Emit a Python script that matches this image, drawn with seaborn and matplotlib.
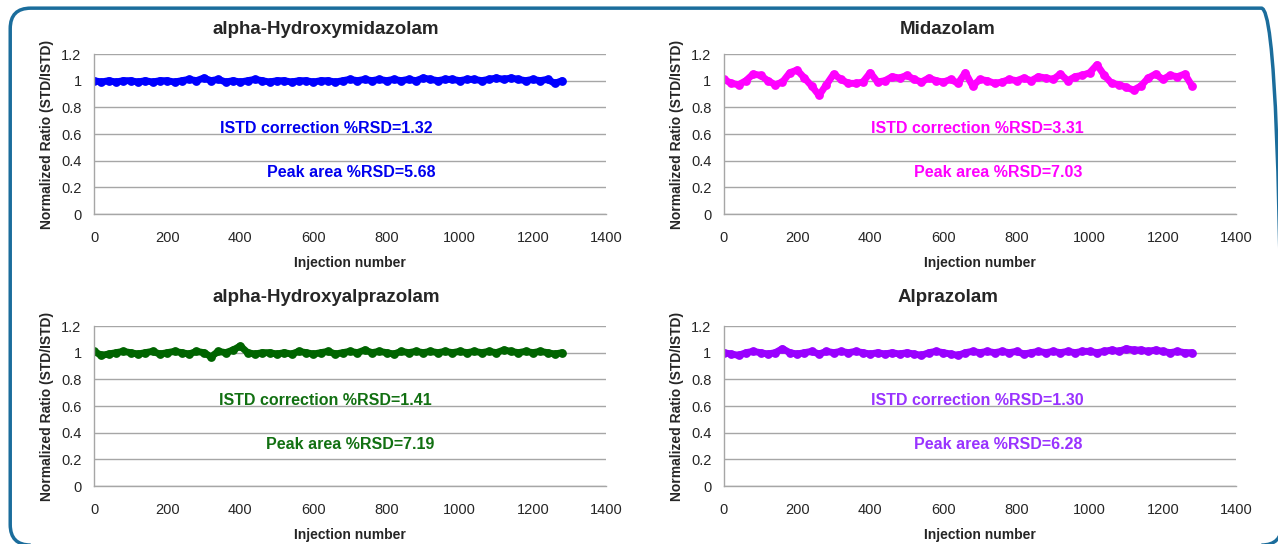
import numpy as np
import pandas as pd
import matplotlib
matplotlib.use("Agg")
import matplotlib.pyplot as plt
from matplotlib.patches import FancyBboxPatch
import seaborn as sns

injection = list(range(0, 1281, 20))

hydroxymidazolam = [1.00, 0.99, 1.00, 0.99, 1.00, 1.00, 0.99, 1.00, 0.99, 1.00,
                    1.00, 0.99, 1.00, 1.01, 1.00, 1.02, 1.00, 1.01, 0.99, 1.00,
                    0.99, 1.00, 1.01, 1.00, 0.99, 1.00, 1.00, 0.99, 1.00, 1.00,
                    0.99, 1.00, 1.00, 0.99, 1.00, 1.01, 1.00, 1.01, 1.00, 1.01,
                    1.00, 1.01, 1.00, 1.01, 1.00, 1.02, 1.01, 1.00, 1.01, 1.01,
                    1.00, 1.01, 1.01, 1.00, 1.01, 1.02, 1.01, 1.02, 1.01, 1.00,
                    1.01, 1.00, 1.01, 0.98, 1.00]
midazolam = [1.01, 0.98, 0.97, 1.00, 1.05, 1.04, 1.00, 0.97, 0.99, 1.06,
             1.08, 1.02, 0.96, 0.89, 0.97, 1.05, 1.01, 0.98, 0.98, 0.99,
             1.06, 0.99, 1.00, 1.03, 1.02, 1.04, 1.01, 0.99, 1.02, 1.00,
             0.99, 1.01, 0.98, 1.06, 0.96, 1.01, 1.00, 0.98, 0.99, 1.01,
             1.00, 1.02, 1.00, 1.03, 1.02, 1.01, 1.05, 1.00, 1.03, 1.04,
             1.06, 1.12, 1.04, 0.98, 0.97, 0.95, 0.93, 0.96, 1.02, 1.05,
             1.01, 1.04, 1.03, 1.05, 0.96]
hydroxyalprazolam = [1.01, 0.98, 0.99, 1.00, 1.01, 1.00, 0.99, 1.00, 1.01, 0.99,
                     1.00, 1.01, 1.00, 0.99, 1.01, 1.00, 0.97, 1.01, 1.00, 1.02,
                     1.05, 1.00, 0.99, 1.00, 1.00, 0.99, 1.00, 0.99, 1.01, 1.00,
                     0.99, 1.00, 1.01, 0.99, 1.00, 1.01, 1.00, 1.02, 1.00, 1.01,
                     1.00, 0.99, 1.01, 1.00, 1.01, 1.00, 1.01, 1.00, 1.01, 1.00,
                     1.01, 1.00, 1.01, 1.00, 1.01, 1.00, 1.02, 1.01, 1.00, 1.01,
                     1.00, 1.01, 1.00, 0.99, 1.00]
alprazolam = [1.00, 0.99, 0.98, 1.00, 1.01, 1.00, 0.99, 1.00, 1.03, 1.00,
              0.99, 1.00, 1.01, 0.99, 1.01, 1.00, 1.01, 1.00, 1.01, 1.00,
              0.99, 1.00, 0.99, 1.00, 0.99, 1.00, 0.99, 0.98, 1.00, 1.01,
              1.00, 0.99, 0.98, 1.00, 1.01, 1.00, 1.01, 1.00, 1.01, 1.00,
              1.01, 0.99, 1.00, 1.01, 1.00, 1.01, 1.00, 1.01, 1.00, 1.01,
              1.01, 1.00, 1.01, 1.02, 1.01, 1.03, 1.02, 1.02, 1.01, 1.02,
              1.01, 1.00, 1.01, 1.00, 1.00]

titles = ["alpha-Hydroxymidazolam", "Midazolam", "alpha-Hydroxyalprazolam", "Alprazolam"]
istd_rsd = [1.32, 3.31, 1.41, 1.30]
peak_rsd = [5.68, 7.03, 7.19, 6.28]
colors = ["#0000ff", "#ff00ff", "#006400", "#9900ff"]
text_colors = ["#0000ee", "#ff00ff", "#127012", "#9933ff"]
series = [hydroxymidazolam, midazolam, hydroxyalprazolam, alprazolam]

sns.set_style("white")
plt.rcParams['font.family'] = ['Liberation Sans Narrow', 'Liberation Sans', 'DejaVu Sans']

fig = plt.figure(figsize=(12.78, 5.44), dpi=100)

# rounded frame around the whole figure
frame = FancyBboxPatch((0.008, -0.002), 0.995, 0.987,
                       boxstyle="round,pad=0,rounding_size=0.016",
                       transform=fig.transFigure, fill=False,
                       edgecolor="#1b6d9c", linewidth=2.5, mutation_aspect=1278 / 544)
fig.patches.append(frame)

positions = [(0.0736, 0.6066), (0.5665, 0.6066), (0.0736, 0.1066), (0.5665, 0.1066)]
title_x = [326, 948, 326, 948]
title_y = [30, 30, 298, 298]
istd_x = [326, 977, 325, 977]
peak_x = [351, 998, 350, 998]

for i in range(4):
    ax = fig.add_axes([positions[i][0], positions[i][1], 0.4006, 0.2941])
    df = pd.DataFrame({"Injection number": injection, "ratio": series[i]})
    sns.lineplot(data=df, x="Injection number", y="ratio", ax=ax,
                 color=colors[i], linewidth=5, legend=False)
    sns.scatterplot(data=df, x="Injection number", y="ratio", ax=ax,
                    color=colors[i], s=40, linewidth=0, legend=False)
    ax.set_xlim(0, 1400)
    ax.set_ylim(0, 1.2)
    ax.set_xticks(range(0, 1401, 200))
    ax.set_yticks([0, 0.2, 0.4, 0.6, 0.8, 1.0, 1.2])
    ax.set_yticklabels(["0", "0.2", "0.4", "0.6", "0.8", "1", "1.2"])
    ax.grid(axis="y", color="#a6a6a6", linewidth=1)
    ax.set_axisbelow(True)
    for s in ["top", "right"]:
        ax.spines[s].set_visible(False)
    for s in ["left", "bottom"]:
        ax.spines[s].set_color("#a6a6a6")
        ax.spines[s].set_linewidth(1)
    ax.tick_params(axis="both", length=4, color="#a6a6a6", labelsize=10.5, direction="out")
    ax.tick_params(axis="x", pad=8)
    ax.tick_params(axis="y", pad=5)
    ax.set_xlabel("Injection number", fontsize=10, fontweight="bold", labelpad=8)
    ax.set_ylabel("Normalized Ratio (STD/ISTD)", fontsize=10, fontweight="bold", labelpad=5)

    fig.text(title_x[i] / 1278, 1 - title_y[i] / 544, titles[i], ha="center", va="center",
             fontsize=13.5, fontweight="bold")
    ax.text((istd_x[i] - 94 - (i % 2) * 630) / 512 * 1400, 0.645,
            f"ISTD correction %RSD={istd_rsd[i]:.2f}",
            ha="center", va="center", fontsize=11.5, fontweight="bold", color=text_colors[i])
    ax.text((peak_x[i] - 94 - (i % 2) * 630) / 512 * 1400, 0.31,
            f"Peak area %RSD={peak_rsd[i]:.2f}",
            ha="center", va="center", fontsize=11.5, fontweight="bold", color=text_colors[i])

fig.savefig("out.png", dpi=100)
